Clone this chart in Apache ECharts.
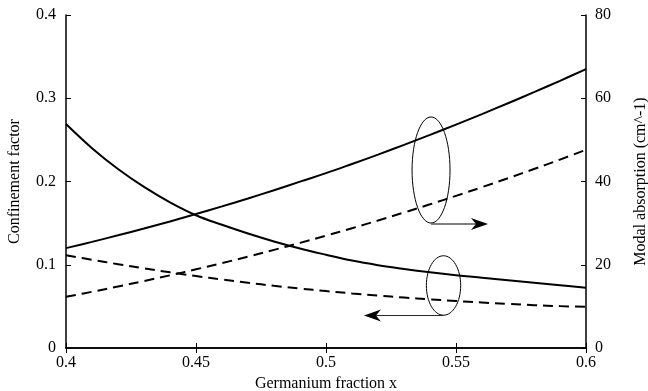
<!DOCTYPE html>
<html>
<head>
<meta charset="utf-8">
<script src="https://cdn.jsdelivr.net/npm/echarts@6/dist/echarts.min.js"></script>
<style>
html,body{margin:0;padding:0;background:#fff;}
#chart{width:648px;height:391px;}
</style>
</head>
<body>
<div id="chart"></div>
<script>
// ---- data ----
var germaniumFraction = [0.40,0.41,0.42,0.43,0.44,0.45,0.46,0.47,0.48,0.49,0.50,0.51,0.52,0.53,0.54,0.55,0.56,0.57,0.58,0.59,0.60];
// confinement factor (left axis)
var confinementSolid = [0.269,0.240,0.215,0.1935,0.175,0.1595,0.148,0.1375,0.128,0.1195,0.112,0.105,0.0995,0.095,0.091,0.0875,0.0845,0.0815,0.0785,0.0755,0.0725];
var confinementDashed = [0.1115,0.1060,0.1007,0.0957,0.0909,0.0864,0.0822,0.0783,0.0747,0.0714,0.0684,0.0656,0.0630,0.0606,0.0584,0.0564,0.0546,0.0530,0.0515,0.0503,0.0494];
// modal absorption (right axis, cm^-1)
var absorptionSolid = [24.0,25.5,27.07,28.71,30.41,32.18,34.02,35.93,37.91,39.96,42.0,44.2,46.45,48.8,51.2,53.68,56.2,58.8,61.46,64.19,67.0];
var absorptionDashed = [12.3,13.5,14.76,16.08,17.46,18.9,20.4,21.95,23.57,25.25,26.98,28.78,30.63,32.55,34.52,36.55,38.64,40.79,43.0,45.27,47.6];
var xTicks = ['0.4','0.45','0.5','0.55','0.6'];
var leftTicks = ['0','0.1','0.2','0.3','0.4'];
var rightTicks = ['0','20','40','60','80'];

function pairs(ys){ return germaniumFraction.map(function(x,i){ return [x, ys[i]]; }); }

var FONT = 'Liberation Serif';
var FS = 16;
var chart = echarts.init(document.getElementById('chart'));
var axisLine = {show:true, lineStyle:{color:'#000', width:1.5}};
var tick = {show:true, inside:true, length:5, lineStyle:{color:'#000', width:1}};

chart.setOption({
  animation:false,
  backgroundColor:'#fff',
  grid:{left:66, right:62, top:15, bottom:43, containLabel:false, outerBoundsMode:'none'},
  xAxis:[{
    type:'value', min:0.4, max:0.6, interval:0.05,
    name:'Germanium fraction x', nameLocation:'middle', nameGap:25,
    nameTextStyle:{fontFamily:FONT, fontSize:FS, color:'#000'},
    axisLine:axisLine, axisTick:tick, splitLine:{show:false},
    axisLabel:{fontFamily:FONT, fontSize:FS, color:'#000', margin:7,
      formatter:function(v){ var i=Math.round((v-0.4)/0.05); return xTicks[i]; }}
  },{
    type:'value', min:0.4, max:0.6, interval:0.05, position:'top',
    axisLine:axisLine, axisTick:tick, axisLabel:{show:false}, splitLine:{show:false}
  }],
  yAxis:[{
    type:'value', min:0, max:0.4, interval:0.1, position:'left',
    name:'Confinement factor', nameLocation:'middle', nameGap:43, nameRotate:90,
    nameTextStyle:{fontFamily:FONT, fontSize:FS, color:'#000'},
    axisLine:axisLine, axisTick:tick, splitLine:{show:false},
    axisLabel:{fontFamily:FONT, fontSize:FS, color:'#000', margin:10,
      formatter:function(v){ return leftTicks[Math.round(v/0.1)]; }}
  },{
    type:'value', min:0, max:80, interval:20, position:'right',
    name:'Modal absorption (cm^-1)', nameLocation:'middle', nameGap:47, nameRotate:90,
    nameTextStyle:{fontFamily:FONT, fontSize:FS, color:'#000'},
    axisLine:axisLine, axisTick:tick, splitLine:{show:false},
    axisLabel:{fontFamily:FONT, fontSize:FS, color:'#000', margin:9,
      formatter:function(v){ return rightTicks[Math.round(v/20)]; }}
  }],
  series:[
    {type:'line', xAxisIndex:0, yAxisIndex:0, data:pairs(confinementSolid), smooth:0.4, showSymbol:false,
      lineStyle:{color:'#000', width:2, type:'solid'}},
    {type:'line', xAxisIndex:0, yAxisIndex:0, data:pairs(confinementDashed), smooth:0.4, showSymbol:false,
      lineStyle:{color:'#000', width:2, type:[10,6]}},
    {type:'line', xAxisIndex:0, yAxisIndex:1, data:pairs(absorptionSolid), smooth:0.4, showSymbol:false,
      lineStyle:{color:'#000', width:2, type:'solid'}},
    {type:'line', xAxisIndex:0, yAxisIndex:1, data:pairs(absorptionDashed), smooth:0.4, showSymbol:false,
      lineStyle:{color:'#000', width:2, type:[10,6]}}
  ]
});

// ---- annotations (ellipses + arrows), anchored in data coordinates (left axis units) ----
function px(x,y){ return chart.convertToPixel({xAxisIndex:0, yAxisIndex:0}, [x,y]); }
var e1c = px(0.5404, 0.2138), e1t = px(0.5404, 0.2775);
var e1r = px(0.5477, 0.2138);
var a1s = px(0.5404, 0.149), a1e = px(0.5623, 0.149);
var e2c = px(0.5452, 0.0751), e2t = px(0.5452, 0.1108);
var e2r = px(0.5518, 0.0751);
var a2s = px(0.5452, 0.039), a2e = px(0.5146, 0.039);

function arrowHead(tip, dir){
  var L=17, W=6, N=12;
  return [[tip[0],tip[1]],[tip[0]-dir*L,tip[1]-W],[tip[0]-dir*N,tip[1]],[tip[0]-dir*L,tip[1]+W]];
}
chart.setOption({
  graphic:[
    {type:'ellipse', shape:{cx:e1c[0], cy:e1c[1], rx:e1r[0]-e1c[0], ry:e1c[1]-e1t[1]},
      style:{fill:'none', stroke:'#000', lineWidth:1}},
    {type:'line', shape:{x1:a1s[0], y1:a1s[1], x2:a1e[0]-10, y2:a1e[1]}, style:{stroke:'#555', lineWidth:1.5}},
    {type:'polygon', shape:{points:arrowHead(a1e, 1)}, style:{fill:'#000'}},
    {type:'ellipse', shape:{cx:e2c[0], cy:e2c[1], rx:e2r[0]-e2c[0], ry:e2c[1]-e2t[1]},
      style:{fill:'none', stroke:'#000', lineWidth:1}},
    {type:'line', shape:{x1:a2s[0], y1:a2s[1], x2:a2e[0]+10, y2:a2e[1]}, style:{stroke:'#222', lineWidth:1}},
    {type:'polygon', shape:{points:arrowHead(a2e, -1)}, style:{fill:'#000'}}
  ]
});
</script>
</body>
</html>
